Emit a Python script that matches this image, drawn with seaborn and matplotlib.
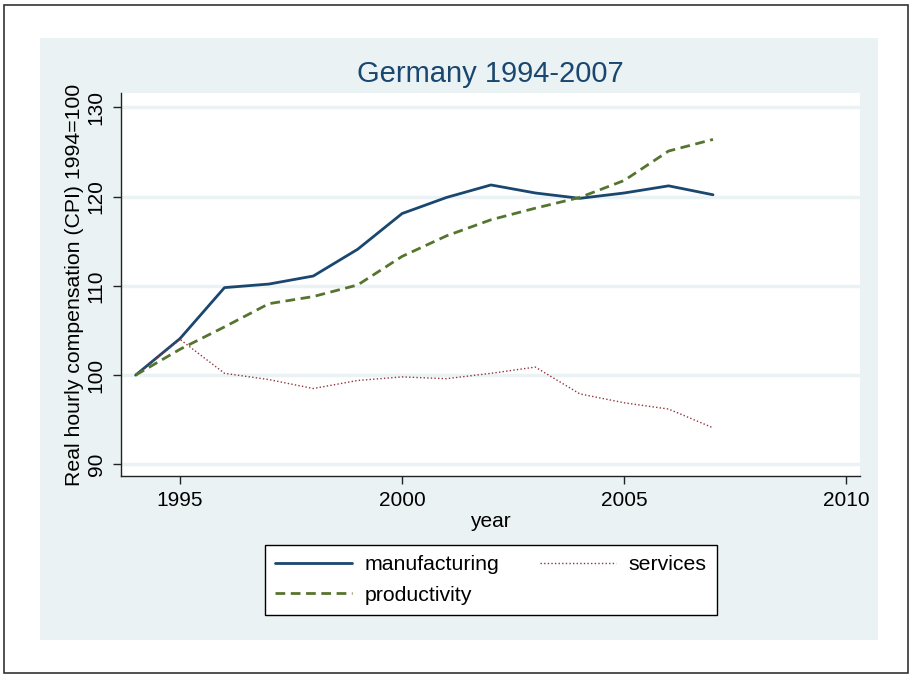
import numpy as np
import pandas as pd

import matplotlib
matplotlib.use('Agg')
import matplotlib.pyplot as plt
from matplotlib.patches import Rectangle
import seaborn as sns

# Values.
years = list(range(1994, 2008))
manufacturing = [100.0, 104.1, 109.8, 110.2, 111.1, 114.1, 118.1,
                 119.9, 121.3, 120.4, 119.8, 120.4, 121.2, 120.2]
services = [100.0, 104.0, 100.2, 99.5, 98.5, 99.4, 99.8,
            99.6, 100.2, 100.9, 97.9, 96.9, 96.2, 94.1]
productivity = [100.0, 102.9, 105.4, 108.0, 108.8, 110.1, 113.3,
                115.6, 117.4, 118.7, 119.9, 121.8, 125.1, 126.4]
series_names = ['manufacturing', 'services', 'productivity']
y_ticks = [90, 100, 110, 120, 130]
x_ticks = [1995, 2000, 2005, 2010]

df = pd.DataFrame({
    'year': years,
    'manufacturing': manufacturing,
    'services': services,
    'productivity': productivity,
}).melt(id_vars='year', var_name='series', value_name='value')

sns.set_theme(style='white')
plt.rcParams['font.family'] = ['Liberation Sans', 'DejaVu Sans']
plt.rcParams['text.color'] = 'black'
plt.rcParams['axes.labelcolor'] = 'black'
plt.rcParams['xtick.color'] = 'black'
plt.rcParams['ytick.color'] = 'black'

W, H, DPI = 913, 677, 100
fig = plt.figure(figsize=(W / DPI, H / DPI), dpi=DPI, facecolor='white')

# Outer border and light-blue graph region (Stata s2color look).
fig.patches.append(Rectangle((4 / W, 4 / H), (W - 9) / W, (H - 9) / H,
                             transform=fig.transFigure, fill=False,
                             edgecolor='#333333', linewidth=1.2, zorder=-10))
fig.patches.append(Rectangle((40 / W, 1 - 640 / H), (878 - 40) / W, (640 - 38) / H,
                             transform=fig.transFigure, facecolor='#EAF2F3',
                             edgecolor='none', zorder=-10))

ax = fig.add_axes([121 / W, 1 - 476 / H, (860 - 121) / W, (476 - 93) / H])
ax.set_facecolor('white')

palette = {'manufacturing': '#1A476F', 'services': '#90353B', 'productivity': '#55752F'}
dashes = {'manufacturing': '', 'services': (1, 1.6), 'productivity': (3.5, 2)}
sns.lineplot(data=df, x='year', y='value', hue='series', style='series',
             hue_order=series_names, style_order=series_names,
             palette=palette, dashes=dashes, ax=ax, legend=False)
widths = {'manufacturing': 2.0, 'services': 1.0, 'productivity': 2.0}
for line, name in zip(ax.get_lines(), series_names):
    line.set_linewidth(widths[name])

ax.set_xlim(1993.67, 2010.31)
ax.set_ylim(88.7, 131.6)
ax.set_xticks(x_ticks)
ax.set_yticks(y_ticks)
ax.set_yticklabels([str(t) for t in y_ticks], rotation=90, va='center')
for t in y_ticks:
    ax.axhline(t, color='#EAF2F3', linewidth=2.5, zorder=0)

for side in ['top', 'right']:
    ax.spines[side].set_visible(False)
for side in ['left', 'bottom']:
    ax.spines[side].set_color('#222222')
    ax.spines[side].set_linewidth(1.0)
ax.tick_params(axis='both', which='major', direction='out', length=6,
               width=1.0, color='#222222', labelsize=15, pad=5,
               left=True, bottom=True)

ax.set_xlabel('year', fontsize=15, labelpad=1)
ax.set_ylabel('Real hourly compensation (CPI) 1994=100', fontsize=15.3, labelpad=2)
ax.set_title('Germany 1994-2007', fontsize=21, color='#1A476F', pad=8)

handles = {name: line for line, name in zip(ax.get_lines(), series_names)}
order = ['manufacturing', 'productivity', 'services']
leg = fig.legend([handles[n] for n in order], order, ncol=2,
                 loc='center', bbox_to_anchor=(491 / W, 1 - 580 / H),
                 fontsize=15.3, frameon=True, fancybox=False,
                 edgecolor='black', framealpha=1, handlelength=3.6,
                 columnspacing=1.9, borderpad=0.5, labelspacing=0.55,
                 handletextpad=0.6, borderaxespad=0)
leg.get_frame().set_linewidth(1.0)

fig.savefig('out.png', dpi=DPI, facecolor='white')
